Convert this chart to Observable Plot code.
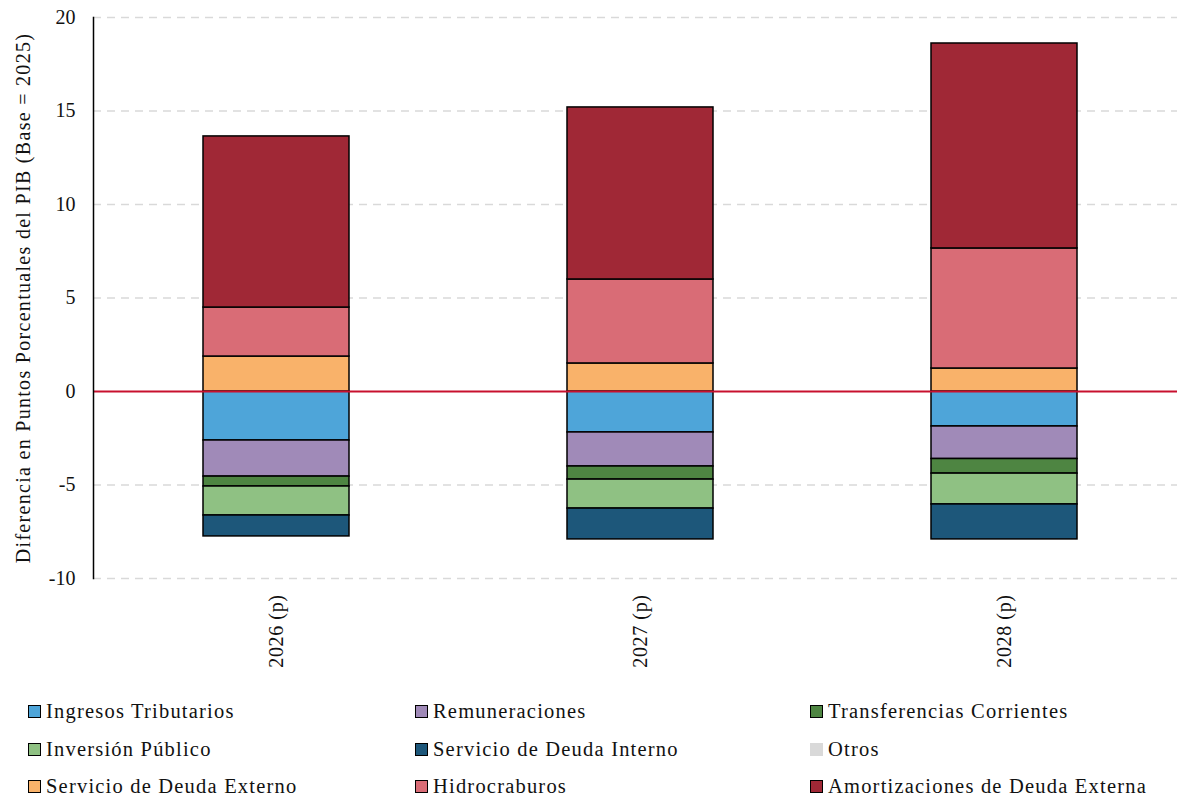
<!DOCTYPE html>
<html><head><meta charset="utf-8">
<script src="https://cdn.jsdelivr.net/npm/d3@7"></script>
<script src="https://cdn.jsdelivr.net/npm/@observablehq/plot@0.6"></script>
<style>
body{margin:0;background:#fff;font-family:"Liberation Serif",serif;}
#legend{display:grid;grid-template-columns:387px 395px 360px;margin-left:28px;margin-top:3px;font-size:20.5px;letter-spacing:1.2px;color:#111;}
.item{height:37.5px;display:flex;align-items:center;}
.sw{width:11px;height:11px;border:1.5px solid #000;margin-right:5px;flex:none;}
</style></head><body><div id="chart"></div><div id="legend"></div>
<script>
const years = ["2026 (p)", "2027 (p)", "2028 (p)"];
const seriesNames = ["Ingresos Tributarios","Remuneraciones","Transferencias Corrientes","Inversión Público","Servicio de Deuda Interno","Otros","Servicio de Deuda Externo","Hidrocraburos","Amortizaciones de Deuda Externa"];
const seriesColors = ["#4EA5D9","#A08AB8","#4E8542","#8FC183","#1D577A","#D9D9D9","#F9B26A","#D96C76","#A02836"];
const ingresosTributarios = [-2.62, -2.19, -1.87];
const remuneraciones = [-1.93, -1.82, -1.74];
const transferenciasCorrientes = [-0.53, -0.70, -0.78];
const inversionPublico = [-1.55, -1.55, -1.65];
const servicioDeudaInterno = [-1.12, -1.65, -1.87];
const otros = [0, 0, 0];
const servicioDeudaExterno = [1.87, 1.50, 1.23];
const hidrocraburos = [2.62, 4.49, 6.42];
const amortizacionesDeudaExterna = [9.15, 9.20, 10.96];
const yTicks = [-10, -5, 0, 5, 10, 15, 20];

const allValues = [ingresosTributarios, remuneraciones, transferenciasCorrientes, inversionPublico, servicioDeudaInterno, otros, servicioDeudaExterno, hidrocraburos, amortizacionesDeudaExterna];
const data = [];
seriesNames.forEach((s, i) => years.forEach((y, j) => {
  if (allValues[i][j] !== 0) data.push({year: y, series: s, value: allValues[i][j]});
}));

const chart = Plot.plot({
  width: 1177,
  height: 690,
  marginLeft: 93,
  marginRight: 0,
  marginTop: 17,
  marginBottom: 112,
  style: {fontFamily: "Liberation Serif", fontSize: "19px", color: "#111", background: "#fff"},
  x: {domain: years, range: [93, 1186], paddingInner: 0.6, paddingOuter: 0.3, label: null},
  y: {domain: [-10, 20], ticks: yTicks, label: null},
  color: {domain: seriesNames, range: seriesColors},
  marks: [
    Plot.gridY(yTicks.filter(d => d !== 0), {stroke: "#d9d9d9", strokeOpacity: 1, strokeWidth: 1.5, strokeDasharray: "8,6"}),
    Plot.barY(data, {x: "year", y: "value", fill: "series", stroke: "#000", strokeWidth: 1.5, inset: 0}),
    Plot.ruleY([0], {stroke: "#C8102E", strokeWidth: 1.8}),
    Plot.axisY({ticks: yTicks, tickSize: 0, tickPadding: 18, fontSize: 20, tickFormat: d => String(d),
      label: "Diferencia en Puntos Porcentuales del PIB (Base = 2025)", labelAnchor: "center", labelArrow: "none", labelOffset: 78}),
    Plot.axisX({tickSize: 0, tickRotate: -90, tickPadding: 16, fontSize: 20, label: null}),
    Plot.frame({anchor: "left", stroke: "#000", strokeWidth: 1.5})
  ]
});
document.getElementById("chart").appendChild(chart);
d3.select(chart).selectAll('[aria-label="y-axis label"] text').style("font-size", "20px").style("letter-spacing", "1.3px");
d3.select(chart).selectAll('[aria-label="x-axis tick label"] text').style("letter-spacing", "0.6px");

const legend = document.getElementById("legend");
seriesNames.forEach((name, i) => {
  const it = document.createElement("div"); it.className = "item";
  const sw = document.createElement("span"); sw.className = "sw";
  sw.style.background = seriesColors[i];
  if (name === "Otros") sw.style.borderColor = seriesColors[i];
  const t = document.createElement("span"); t.textContent = name;
  it.appendChild(sw); it.appendChild(t); legend.appendChild(it);
});
</script></body></html>
